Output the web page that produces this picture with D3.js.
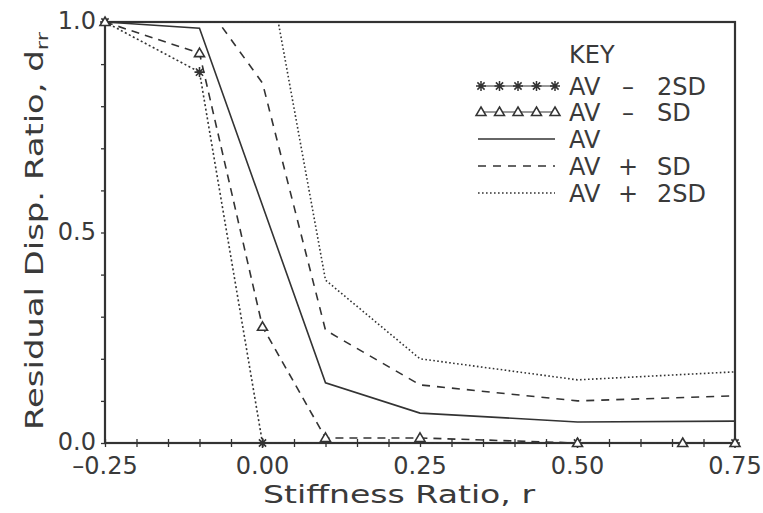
<!DOCTYPE html>
<html>
<head>
<meta charset="utf-8">
<script src="https://cdn.jsdelivr.net/npm/d3@7"></script>
<style>
  body { margin: 0; background: #fff; }
  text { font-family: "DejaVu Sans", sans-serif; fill: #3a3a3a; }
</style>
</head>
<body>
<div id="container"></div>
<script>
let w = 763;
let h = 513;

// DATA
let xAVm2SD = [-0.25, -0.10, 0.00, 0.50, 0.75];
let yAVm2SD = [1.0, 0.881, 0.0, 0.0, 0.0];

let xAVmSD = [-0.25, -0.10, 0.00, 0.10, 0.25, 0.50, 0.667, 0.75];
let yAVmSD = [1.0, 0.926, 0.276, 0.012, 0.012, 0.0, 0.0, 0.0];

let xAV = [-0.25, -0.10, 0.10, 0.25, 0.50, 0.75];
let yAV = [1.0, 0.985, 0.143, 0.071, 0.05, 0.052];

let xAVpSD = [-0.25, -0.07, 0.00, 0.10, 0.25, 0.50, 0.75];
let yAVpSD = [1.0, 1.0, 0.855, 0.268, 0.138, 0.10, 0.112];

let xAVp2SD = [-0.25, 0.025, 0.10, 0.25, 0.50, 0.75];
let yAVp2SD = [1.0, 1.0, 0.387, 0.20, 0.15, 0.169];

let xTicks = [-0.25, 0.00, 0.25, 0.50, 0.75];
let xTickLabels = ["\u20130.25", "0.00", "0.25", "0.50", "0.75"];
let yTicks = [0.0, 0.5, 1.0];
let yTickLabels = ["0.0", "0.5", "1.0"];

let keyLabels = [["AV", "\u2013", "2SD"], ["AV", "\u2013", "SD"], ["AV", "", ""], ["AV", "+", "SD"], ["AV", "+", "2SD"]];

let viz = d3.select("#container").append("svg")
    .attr("width", w)
    .attr("height", h);

// SCALES
let xScale = d3.scaleLinear().domain([-0.25, 0.75]).range([105, 735]);
let yScale = d3.scaleLinear().domain([0, 1]).range([443, 22]);

let ink = "#333";

// minor ticks on x (cross the axis)
viz.append("g")
  .attr("transform", "translate(0,443)")
  .call(d3.axisBottom(xScale).tickValues(d3.range(-0.25, 0.7501, 0.05)).tickSize(4).tickFormat(""))
  .call(g => g.select(".domain").remove())
  .call(g => g.selectAll(".tick line").attr("y1", -4).attr("stroke", ink).attr("stroke-width", 1.3));

// minor ticks on y (outside)
viz.append("g")
  .attr("transform", "translate(105,0)")
  .call(d3.axisLeft(yScale).tickValues(d3.range(0, 1.0001, 0.1)).tickSize(4).tickFormat(""))
  .call(g => g.select(".domain").remove())
  .call(g => g.selectAll(".tick line").attr("stroke", ink).attr("stroke-width", 1.3));

// frame
viz.append("rect")
  .attr("x", xScale(-0.25))
  .attr("y", yScale(1))
  .attr("width", xScale(0.75) - xScale(-0.25))
  .attr("height", yScale(0) - yScale(1))
  .attr("fill", "none")
  .attr("stroke", ink)
  .attr("stroke-width", 2.2);

// tick labels
viz.selectAll(".xlab").data(xTicks).enter()
  .append("text")
    .attr("class", "xlab")
    .attr("x", d => xScale(d))
    .attr("y", 474)
    .attr("text-anchor", "middle")
    .attr("font-size", 24)
    .text((d, i) => xTickLabels[i]);

viz.selectAll(".ylab").data(yTicks).enter()
  .append("text")
    .attr("class", "ylab")
    .attr("x", 96)
    .attr("y", d => yScale(d) + 7)
    .attr("text-anchor", "end")
    .attr("font-size", 24)
    .text((d, i) => yTickLabels[i]);

// axis titles (the original stroke font is wider, so stretch to its length)
viz.append("text")
  .attr("x", 263)
  .attr("y", 503)
  .attr("font-size", 24)
  .attr("textLength", 272)
  .attr("lengthAdjust", "spacingAndGlyphs")
  .text("Stiffness Ratio, r");

let yTitle = viz.append("text")
  .attr("transform", "translate(43,430) rotate(-90)")
  .attr("font-size", 24)
  .attr("textLength", 398)
  .attr("lengthAdjust", "spacingAndGlyphs");
yTitle.append("tspan").text("Residual Disp. Ratio, d");
yTitle.append("tspan").attr("dy", 5).attr("font-size", 16).text("rr");

// LINES
let lineMaker = d3.line()
  .x(d => xScale(d[0]))
  .y(d => yScale(d[1]));

function pairs(xs, ys) {
  return xs.map((x, i) => [x, ys[i]]);
}

let starPath = "M-5,0L5,0M0,-5L0,5M-3.6,-3.6L3.6,3.6M-3.6,3.6L3.6,-3.6";
let triPath = "M0,-5L5,3.5L-5,3.5Z";

let series = [
  { pts: pairs(xAVm2SD, yAVm2SD), dash: "2,2.5", marker: starPath },
  { pts: pairs(xAVmSD, yAVmSD), dash: "8,6", marker: triPath },
  { pts: pairs(xAV, yAV), dash: null, marker: null },
  { pts: pairs(xAVpSD, yAVpSD), dash: "8,7", marker: null },
  { pts: pairs(xAVp2SD, yAVp2SD), dash: "1.6,2.4", marker: null }
];

viz.selectAll(".series").data(series).enter()
  .append("path")
    .attr("class", "series")
    .attr("d", d => lineMaker(d.pts))
    .attr("fill", "none")
    .attr("stroke", ink)
    .attr("stroke-width", 1.6)
    .attr("stroke-dasharray", d => d.dash);

series.forEach(function(s) {
  if (!s.marker) return;
  viz.selectAll(null).data(s.pts).enter()
    .append("path")
      .attr("transform", d => "translate(" + xScale(d[0]) + "," + yScale(d[1]) + ")")
      .attr("d", s.marker)
      .attr("fill", "#fff")
      .attr("stroke", ink)
      .attr("stroke-width", 1.6);
});

// KEY
viz.append("text")
  .attr("x", 569)
  .attr("y", 63)
  .attr("font-size", 24)
  .text("KEY");

let rowY = [95, 121, 148, 175, 202];
keyLabels.forEach(function(lab, i) {
  let y = rowY[i];
  viz.append("text").attr("x", 569).attr("y", y).attr("font-size", 24).text(lab[0]);
  viz.append("text").attr("x", 628).attr("y", y).attr("font-size", 24).attr("text-anchor", "middle").text(lab[1]);
  viz.append("text").attr("x", 657).attr("y", y).attr("font-size", 24).text(lab[2]);
  let ly = y - 9;
  let s = series[i];
  viz.append("line")
    .attr("x1", 478).attr("x2", 555)
    .attr("y1", ly).attr("y2", ly)
    .attr("stroke", ink)
    .attr("stroke-width", s.marker ? 1 : 1.6)
    .attr("stroke-dasharray", s.marker ? null : s.dash);
  if (s.marker) {
    d3.range(5).forEach(function(k) {
      viz.append("path")
        .attr("transform", "translate(" + (481 + k * 18.5) + "," + ly + ")")
        .attr("d", s.marker)
        .attr("fill", "#fff")
        .attr("stroke", ink)
        .attr("stroke-width", 1.5);
    });
  }
});
</script>
</body>
</html>
